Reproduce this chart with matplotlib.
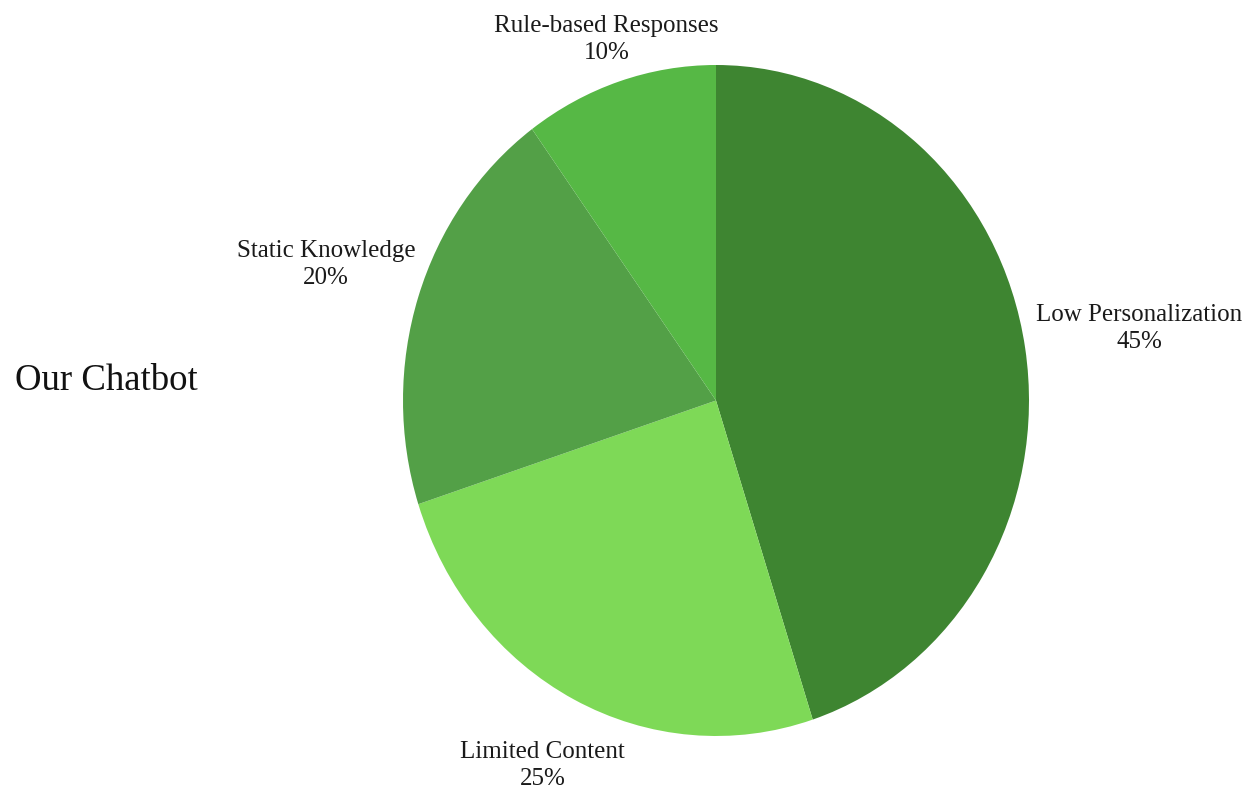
import numpy as np
import matplotlib.pyplot as plt

labels = ['Low Personalization', 'Limited Content', 'Static Knowledge', 'Rule-based Responses']
values = [45, 25, 20, 10]
colors = ['#3E8531', '#7ED957', '#53A047', '#56B845']
label_dist = [1.37, 1.22, 1.31, 1.13]

plt.rcParams['font.family'] = ['Liberation Serif', 'DejaVu Serif']

fig = plt.figure(figsize=(12.59, 7.96), dpi=100)
W, H = 1259, 796
# axes box matching the (slightly elliptical) pie
ax = fig.add_axes([403 / W, 1 - 736 / H, 626 / W, 671 / H])

wedges, _ = ax.pie(values, colors=colors, startangle=90, counterclock=False,
                   wedgeprops=dict(linewidth=0), radius=1)
ax.set_aspect('auto')
ax.set_xlim(-1, 1)
ax.set_ylim(-1, 1)
ax.axis('off')

for w, lab, v, d in zip(wedges, labels, values, label_dist):
    ang = np.deg2rad((w.theta1 + w.theta2) / 2)
    ax.text(d * np.cos(ang), d * np.sin(ang), f'{lab}\n{v}%', ha='center', va='center',
            fontsize=18, color='#1a1a1a', clip_on=False, linespacing=1.3)

fig.text(15 / W, 1 - 381 / H, 'Our Chatbot', ha='left', va='center', fontsize=26.5, color='#111111')

fig.savefig('out.png', dpi=100)
